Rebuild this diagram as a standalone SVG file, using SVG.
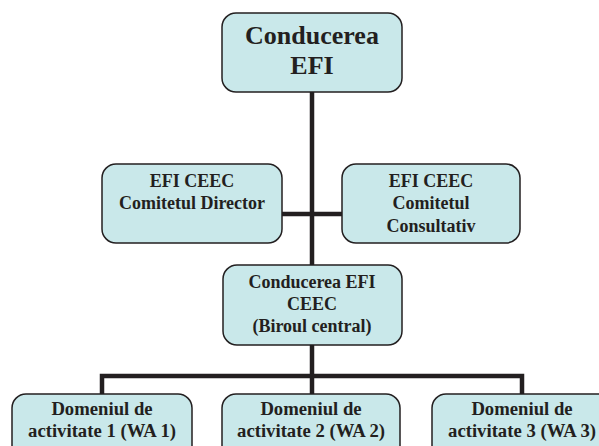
<svg xmlns="http://www.w3.org/2000/svg" width="599" height="446" viewBox="0 0 599 446">
<style>
.box{fill:#C9E8EA;stroke:#231F20;stroke-width:1.5}
.t{font-family:"Liberation Serif","Times New Roman",serif;font-weight:bold;fill:#231F20;text-anchor:middle}
.big{font-size:26px}
.med{font-size:18px}
.bot{font-size:18.7px}
.conn{stroke:#231F20;stroke-width:4.5;fill:none;stroke-linecap:butt}
</style>
<rect width="599" height="446" fill="#FFFFFF"/>
<g id="connectors">
<line class="conn" x1="312" y1="92" x2="312" y2="265"/>
<line class="conn" x1="282" y1="214" x2="342" y2="214"/>
<line class="conn" x1="312" y1="345" x2="312" y2="394"/>
<polyline class="conn" points="102,394 102,376 522,376 522,394"/>
</g>
<g id="n_top">
<rect class="box" x="222" y="13" width="180" height="79" rx="14"/>
<text class="t big" x="312" y="44">Conducerea</text>
<text class="t big" x="312" y="74">EFI</text>
</g>
<g id="n_director">
<rect class="box" x="102" y="164" width="180" height="79" rx="14"/>
<text class="t med" x="192" y="187">EFI CEEC</text>
<text class="t med" x="192" y="209">Comitetul Director</text>
</g>
<g id="n_consultativ">
<rect class="box" x="342" y="164" width="178" height="79" rx="14"/>
<text class="t med" x="431" y="187">EFI CEEC</text>
<text class="t med" x="431" y="209">Comitetul</text>
<text class="t med" x="431" y="232">Consultativ</text>
</g>
<g id="n_birou">
<rect class="box" x="223" y="265" width="179" height="80" rx="14"/>
<text class="t med" x="312" y="288">Conducerea EFI</text>
<text class="t med" x="312" y="310">CEEC</text>
<text class="t med" x="312" y="332">(Biroul central)</text>
</g>
<g id="n_wa1">
<rect class="box" x="12" y="394" width="180" height="70" rx="14"/>
<text class="t bot" x="102" y="415">Domeniul de</text>
<text class="t bot" x="102" y="437">activitate 1 (WA 1)</text>
</g>
<g id="n_wa2">
<rect class="box" x="222" y="394" width="178" height="70" rx="14"/>
<text class="t bot" x="311" y="415">Domeniul de</text>
<text class="t bot" x="311" y="437">activitate 2 (WA 2)</text>
</g>
<g id="n_wa3">
<rect class="box" x="432" y="394" width="180" height="70" rx="14"/>
<text class="t bot" x="522" y="415">Domeniul de</text>
<text class="t bot" x="522" y="437">activitate 3 (WA 3)</text>
</g>
</svg>
